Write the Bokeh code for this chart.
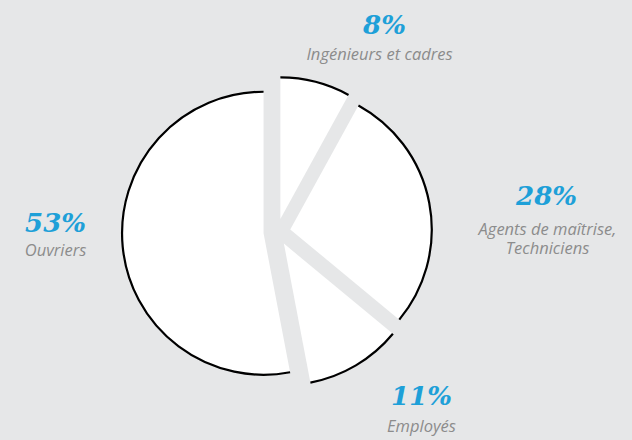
import math
from bokeh.plotting import figure
from bokeh.models import Range1d
from bokeh.embed import file_html
from bokeh.resources import INLINE
from bokeh.core.properties import value

# ---- data ----
categories = ["Ingénieurs et cadres", "Agents de maîtrise,\nTechniciens", "Employés", "Ouvriers"]
shares = [8, 28, 11, 53]
pct_labels = ["8%", "28%", "11%", "53%"]

# ---- layout (screen pixel coords of the page) ----
PAGE_W, PAGE_H = 632, 440
W, H = 632, 440
BG = "#e6e7e8"
BLUE = "#1ea0d8"
GREY = "#8c8c8c"

CX, CY = 276.5, 231.5      # pie centre (screen)
R = 141.5                  # radius in px
EXPLODE = 13.5             # offset of each slice along its bisector

# label anchors (screen): percentage baseline, label first-line baseline
TEXT_DY = -8
pct_pos = [(384, 32), (546, 203), (421, 403), (55, 230)]
lab_pos = [(379, 61), (547, 236), (421, 433), (55, 257)]
LINE_H = 19

def sy(y):
    return PAGE_H - y

p = figure(width=W, height=H, output_backend="svg", toolbar_location=None,
           x_range=Range1d(0, W), y_range=Range1d(0, H),
           min_border=0)
p.axis.visible = False
p.grid.visible = False
p.outline_line_color = None
p.background_fill_color = BG
p.border_fill_color = BG

total = float(sum(shares))
start = 90.0
xs, ys, sa, ea = [], [], [], []
for s in shares:
    sweep = s / total * 360.0
    end = start - sweep
    bis = math.radians((start + end) / 2.0)
    xs.append(CX + EXPLODE * math.cos(bis))
    ys.append(sy(CY) + EXPLODE * math.sin(bis))
    sa.append(math.radians(start))
    ea.append(math.radians(end))
    start = end

p.wedge(x=xs, y=ys, radius=R, radius_units="screen", start_angle=sa, end_angle=ea,
        direction="clock", fill_color="white", line_color=None)
p.arc(x=xs, y=ys, radius=R, radius_units="screen", start_angle=sa, end_angle=ea,
      direction="clock", line_color="black", line_width=2.2)

p.text(x=[q[0] for q in pct_pos], y=[sy(q[1] + TEXT_DY) for q in pct_pos], text=pct_labels,
       text_font=value("DejaVu Serif"), text_font_style="bold italic",
       text_font_size="26px", text_color=BLUE, text_align="center",
       text_baseline="alphabetic")

lx, ly, lt = [], [], []
for (x0, y0), cat in zip(lab_pos, categories):
    for i, line in enumerate(cat.split("\n")):
        lx.append(x0)
        ly.append(sy(y0 + TEXT_DY + i * LINE_H))
        lt.append(line)
p.text(x=lx, y=ly, text=lt, text_font=value("Open Sans"), text_font_style="italic",
       text_font_size="16.5px", text_color=GREY, text_align="center",
       text_baseline="alphabetic")

html = file_html(p, INLINE)
html = html.replace("<head>", "<head><style>html,body{background:%s;}</style>" % BG, 1)
open("out.html", "w").write(html)
